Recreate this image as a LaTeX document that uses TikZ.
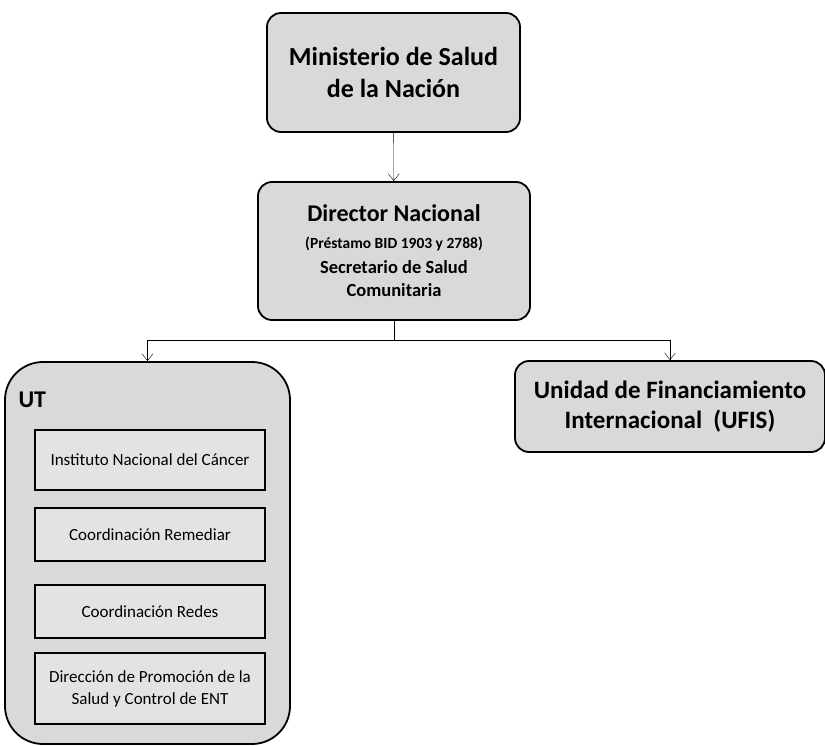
\documentclass[tikz,border=0pt]{standalone}
\usepackage{fontspec}
\setmainfont{Carlito}
\usetikzlibrary{arrows.meta}
\tikzset{>={Straight Barb[length=7pt,width=11pt]},
  caja/.style={draw,line width=1.8pt,rounded corners=14pt,fill=gray!30,align=center,font=\bfseries,inner sep=2pt},
  subcaja/.style={draw,line width=1.8pt,fill=gray!22,align=center,minimum width=230pt,inner sep=2pt,font=\fontsize{17}{22}\selectfont}}

\begin{document}
\begin{tikzpicture}[x=1pt,y=-1pt]
    \useasboundingbox (0,0) rectangle (825,746);
    \node[caja,minimum width=253pt,minimum height=119pt,font=\bfseries\fontsize{26}{32}\selectfont] (min) at (393.5,72.5) {Ministerio de Salud\\de la Nación};
    \node[caja,minimum width=272pt,minimum height=138pt,font=\bfseries\fontsize{18}{23}\selectfont] (dir) at (394,251) {{\fontsize{24}{23}\selectfont Director Nacional}\\[4pt] {\fontsize{15.5}{23}\selectfont (Préstamo BID 1903 y 2788)}\\[2pt] {\fontsize{18.5}{23}\selectfont Secretario de Salud}\\ {\fontsize{18.5}{23}\selectfont Comunitaria}};
    \node[caja,rounded corners=38pt,minimum width=285pt,minimum height=382pt] (ut) at (147.5,553) {};
    \node[caja,minimum width=310pt,minimum height=91pt,font=\bfseries\fontsize{25}{30}\selectfont] (ufis) at (670,406.5) {Unidad de Financiamiento\\Internacional~~(UFIS)};
    \node[anchor=west,font=\bfseries\fontsize{24}{24}\selectfont] (utlbl) at (15,400) {UT};
    \node[subcaja,minimum height=60pt] (inst) at (150,460) {Instituto Nacional del Cáncer};
    \node[subcaja,minimum height=53pt] (rem) at (150,534.5) {Coordinación Remediar};
    \node[subcaja,minimum height=53pt] (redes) at (150,611.5) {Coordinación Redes};
    \node[subcaja,minimum height=71pt] (prom) at (150,688.5) {Dirección de Promoción de la\\Salud y Control de ENT};
    \draw [->] (min) -- (dir);
    \coordinate (split) at (394,340);
    \draw (dir) -- (split);
    \draw [->] (split) -| (ut);
    \draw [->] (split) -| (ufis);
  \end{tikzpicture}
\end{document}
